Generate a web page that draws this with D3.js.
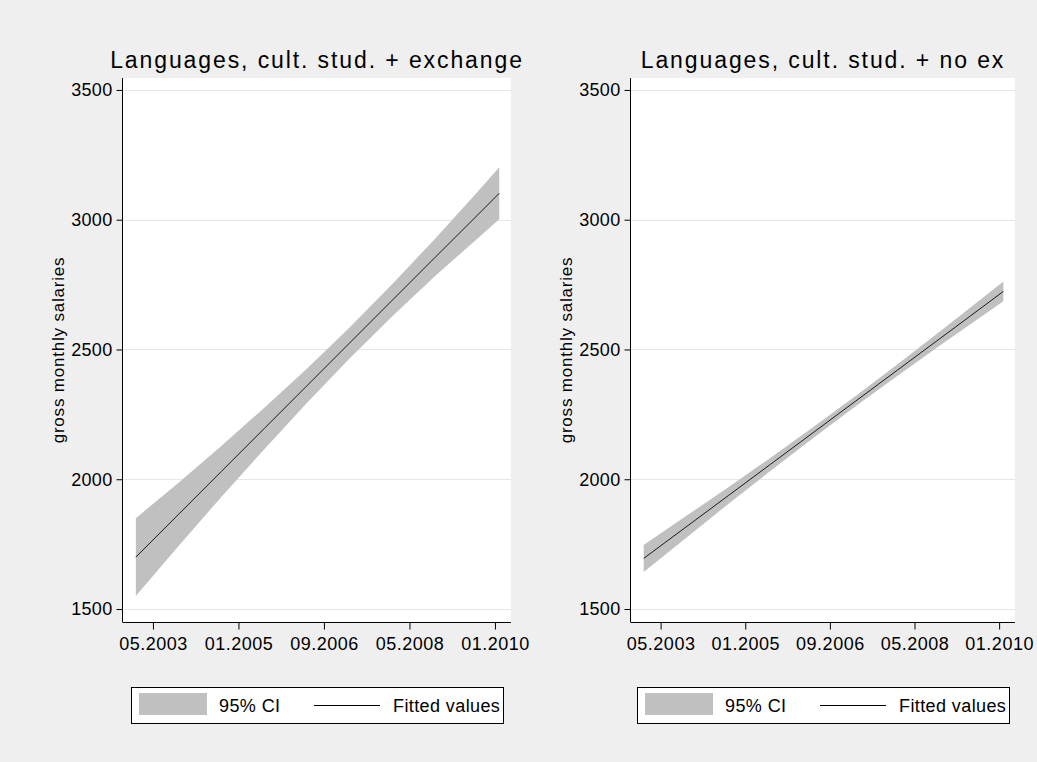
<!DOCTYPE html>
<html>
<head>
<meta charset="utf-8">
<script src="https://cdn.jsdelivr.net/npm/d3@7"></script>
<style>
  html, body { margin: 0; padding: 0; background: #efefef; }
  svg { display: block; }
  text { font-family: "Liberation Sans", Arial, sans-serif; fill: #000; }
</style>
</head>
<body>
<svg id="chart" width="1037" height="762"></svg>
<script>
// Months counted from 01.2003
const months = [0, 10, 20, 30, 40, 50, 60, 70, 80, 85];

// Languages, cultural studies + exchange
const fitExchange   = [1700, 1865, 2030, 2195, 2360, 2525, 2690, 2855, 3019, 3102];
const upperExchange = [1850, 1987, 2128, 2275, 2426, 2585, 2752, 2927, 3109, 3202];
const lowerExchange = [1550, 1743, 1932, 2115, 2294, 2465, 2628, 2783, 2929, 3002];

// Languages, cultural studies + no exchange
const fitNoEx   = [1695, 1816, 1937, 2058, 2179, 2300, 2421, 2542, 2663, 2724];
const upperNoEx = [1747, 1858, 1969, 2083, 2200, 2320, 2443, 2569, 2697, 2762];
const lowerNoEx = [1643, 1774, 1905, 2033, 2158, 2280, 2399, 2515, 2629, 2686];

const xTickMonths = [4, 24, 44, 64, 84];
const xTickLabels = ["05.2003", "01.2005", "09.2006", "05.2008", "01.2010"];
const yTicks = [1500, 2000, 2500, 3000, 3500];

const panelTitles = ["Languages, cult. stud. + exchange", "Languages, cult. stud. + no ex"];
const yTitle = "gross monthly salaries";
const legendLabels = ["95% CI", "Fitted values"];

const svg = d3.select("#chart");
svg.append("rect").attr("width", 1037).attr("height", 762).attr("fill", "#efefef");

const panels = [
  { left: 123, right: 511, title: panelTitles[0], fit: fitExchange, lo: lowerExchange, hi: upperExchange },
  { left: 631, right: 1015, title: panelTitles[1], fit: fitNoEx, lo: lowerNoEx, hi: upperNoEx }
];
const plotTop = 78, plotBottom = 622;

panels.forEach(p => {
  const g = svg.append("g");
  const x = d3.scaleLinear().domain([-3, 87.75]).range([p.left, p.right]);
  const y = d3.scaleLinear().domain([1450, 3546]).range([plotBottom, plotTop]);

  // plot region
  g.append("rect")
    .attr("x", p.left).attr("y", plotTop)
    .attr("width", p.right - p.left).attr("height", plotBottom - plotTop)
    .attr("fill", "#ffffff");

  // horizontal grid lines
  g.selectAll("line.grid").data(yTicks).join("line")
    .attr("class", "grid")
    .attr("x1", p.left).attr("x2", p.right)
    .attr("y1", d => Math.round(y(d)) + 0.5).attr("y2", d => Math.round(y(d)) + 0.5)
    .attr("stroke", "#e6e6e6").attr("stroke-width", 1);

  const rows = months.map((m, i) => ({ m, fit: p.fit[i], lo: p.lo[i], hi: p.hi[i] }));

  // confidence band
  g.append("path").datum(rows)
    .attr("d", d3.area().x(d => x(d.m)).y0(d => y(d.lo)).y1(d => y(d.hi)))
    .attr("fill", "#c0c0c0");

  // fitted line
  g.append("path").datum(rows)
    .attr("d", d3.line().x(d => x(d.m)).y(d => y(d.fit)))
    .attr("fill", "none").attr("stroke", "#1a1a1a").attr("stroke-width", 1);

  // y axis
  const yAxis = g.append("g")
    .attr("transform", `translate(${p.left - 0.5},0)`)
    .call(d3.axisLeft(y).tickValues(yTicks).tickFormat(d3.format("d"))
      .tickSize(6).tickPadding(4).tickSizeOuter(0));
  yAxis.select(".domain").attr("d", `M0,${plotTop}V${plotBottom}`).attr("stroke", "#000");
  yAxis.selectAll(".tick line").attr("stroke", "#000");
  yAxis.selectAll(".tick text").attr("font-size", 18).attr("letter-spacing", 0.3)
    .attr("font-family", "Liberation Sans, Arial, sans-serif");

  // x axis
  const xAxis = g.append("g")
    .attr("transform", `translate(0,${plotBottom + 0.5})`)
    .call(d3.axisBottom(x).tickValues(xTickMonths)
      .tickFormat((d, i) => xTickLabels[i]).tickSize(7).tickPadding(8).tickSizeOuter(0));
  xAxis.select(".domain").attr("d", `M${p.left - 0.5},0H${p.right}`).attr("stroke", "#000");
  xAxis.selectAll(".tick line").attr("stroke", "#000");
  xAxis.selectAll(".tick text").attr("font-size", 18).attr("letter-spacing", 0.5)
    .attr("font-family", "Liberation Sans, Arial, sans-serif");

  // panel title
  g.append("text")
    .attr("x", (p.left + p.right) / 2).attr("y", 68)
    .attr("text-anchor", "middle").attr("font-size", 23).attr("letter-spacing", 1.9)
    .text(p.title);

  // y axis title
  g.append("text")
    .attr("transform", `translate(${p.left - 59},${(plotTop + plotBottom) / 2}) rotate(-90)`)
    .attr("text-anchor", "middle").attr("font-size", 17).attr("letter-spacing", 0.8)
    .text(yTitle);

  // legend
  const cx = (p.left + p.right) / 2;
  const lg = g.append("g").attr("transform", `translate(${cx - 186},687)`);
  lg.append("rect").attr("x", 0.5).attr("y", 0.5).attr("width", 372).attr("height", 36)
    .attr("fill", "#fff").attr("stroke", "#000").attr("stroke-width", 1);
  lg.append("rect").attr("x", 8).attr("y", 6).attr("width", 68).attr("height", 22).attr("fill", "#c0c0c0");
  lg.append("text").attr("x", 88).attr("y", 25).attr("font-size", 18).attr("letter-spacing", 0.4)
    .text(legendLabels[0]);
  lg.append("line").attr("x1", 183).attr("x2", 249).attr("y1", 18.5).attr("y2", 18.5)
    .attr("stroke", "#000").attr("stroke-width", 1);
  lg.append("text").attr("x", 262).attr("y", 25).attr("font-size", 18).attr("letter-spacing", 0.4)
    .text(legendLabels[1]);
});
</script>
</body>
</html>
